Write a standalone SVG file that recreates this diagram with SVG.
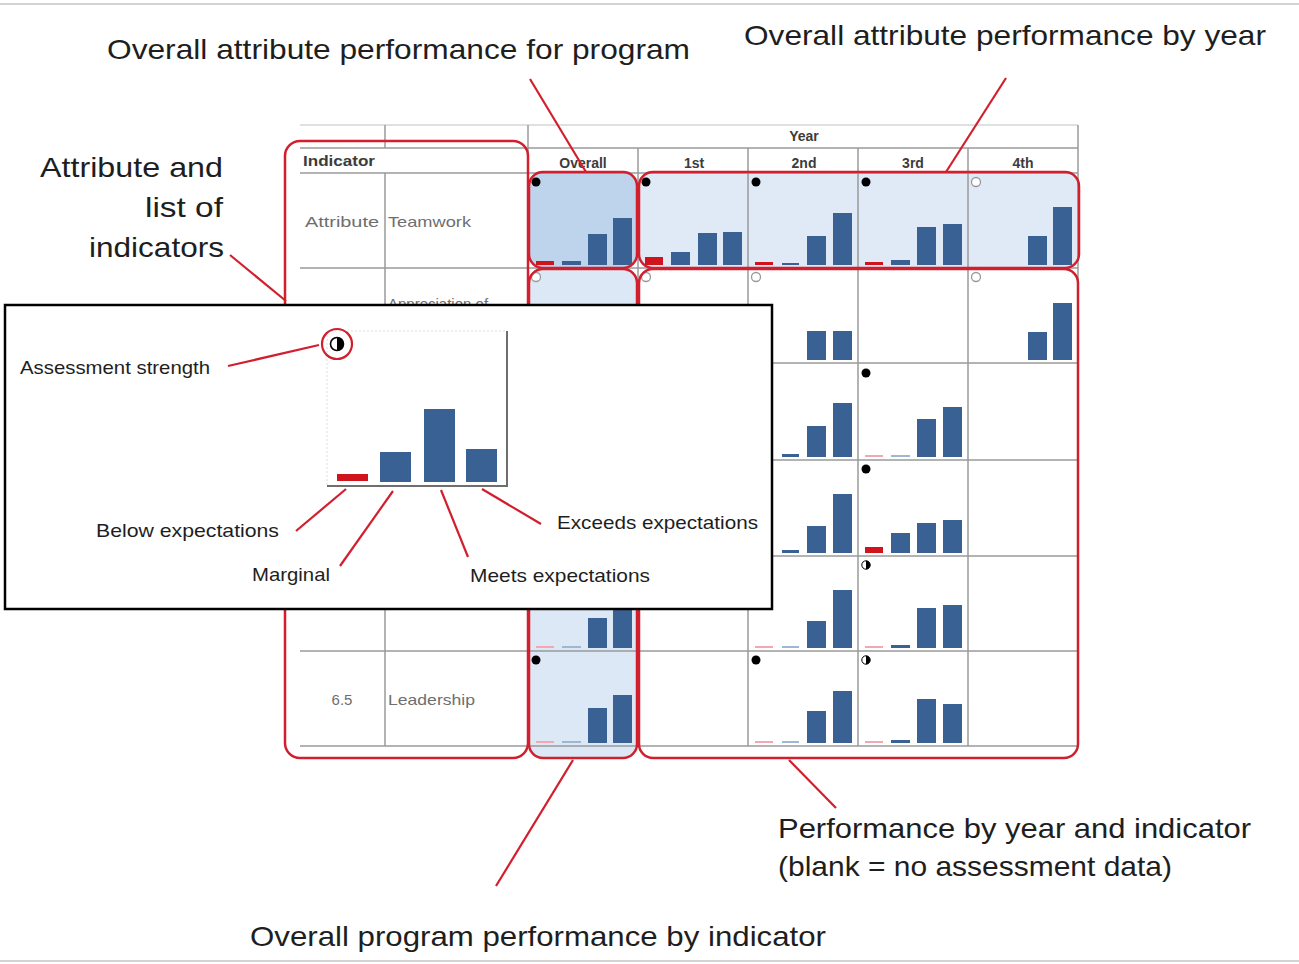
<svg xmlns="http://www.w3.org/2000/svg" width="1299" height="964" viewBox="0 0 1299 964">
  <style>
    .lbl { font-family: "Liberation Sans", Arial, sans-serif; fill: #1e1e1e; }
    .big { font-size: 28px; }
    .mid { font-size: 19px; }
    .cellt { font-family: "Liberation Sans", Arial, sans-serif; font-size: 15px; fill: #6e6e6e; }
    .head { font-family: "Liberation Sans", Arial, sans-serif; font-size: 14px; font-weight: bold; fill: #3c3c3c; }
    .grid { stroke: #9a9a9a; stroke-width: 1.5; fill: none; }
    .frame { fill: none; stroke: #d21f2e; stroke-width: 2.5; }
    .lead { stroke: #d21f2e; stroke-width: 2.2; fill: none; }
    .bar { fill: #3a6194; }
    .red { fill: #d0141e; }
    .pr { fill: #f2a8ae; }
    .pb { fill: #9fb7d3; }
    .dot { fill: #000; }
    .open { fill: #fff; stroke: #999; stroke-width: 1.3; }
  </style>

  <!-- page rules -->
  <line x1="0" y1="4" x2="1299" y2="4" stroke="#c4c4c4" stroke-width="1.5"/>
  <line x1="0" y1="961" x2="1299" y2="961" stroke="#c4c4c4" stroke-width="1.5"/>

  <!-- table background shading -->
  <g id="shading">
    <rect x="639" y="172" width="440" height="96" rx="14" fill="#dfeaf6"/>
    <rect x="529" y="172" width="108" height="96" rx="14" fill="#bed4ec"/>
    <rect x="529" y="269" width="108" height="489" rx="14" fill="#dce8f5"/>
  </g>

  <!-- table grid -->
  <g id="grid" class="grid">
    <line x1="300" y1="125" x2="1078" y2="125" stroke="#d6d6d6"/>
    <line x1="300" y1="148" x2="1078" y2="148"/>
    <line x1="300" y1="173" x2="1078" y2="173"/>
    <line x1="300" y1="268" x2="1078" y2="268"/>
    <line x1="300" y1="363" x2="1078" y2="363"/>
    <line x1="300" y1="460" x2="1078" y2="460"/>
    <line x1="300" y1="556" x2="1078" y2="556"/>
    <line x1="300" y1="651" x2="1078" y2="651"/>
    <line x1="300" y1="746" x2="1078" y2="746"/>
    <line x1="385" y1="125" x2="385" y2="148"/>
    <line x1="385" y1="173" x2="385" y2="746"/>
    <line x1="528" y1="125" x2="528" y2="746"/>
    <line x1="638" y1="148" x2="638" y2="746"/>
    <line x1="748" y1="148" x2="748" y2="746"/>
    <line x1="858" y1="148" x2="858" y2="746"/>
    <line x1="968" y1="148" x2="968" y2="746"/>
    <line x1="1078" y1="125" x2="1078" y2="746"/>
  </g>

  <!-- table headers and row labels -->
  <g id="headers">
    <text class="head" x="804" y="141" text-anchor="middle">Year</text>
    <text class="head" x="303" y="166" textLength="72" lengthAdjust="spacingAndGlyphs">Indicator</text>
    <text class="head" x="583" y="168" text-anchor="middle">Overall</text>
    <text class="head" x="694" y="168" text-anchor="middle">1st</text>
    <text class="head" x="804" y="168" text-anchor="middle">2nd</text>
    <text class="head" x="913" y="168" text-anchor="middle">3rd</text>
    <text class="head" x="1023" y="168" text-anchor="middle">4th</text>
    <text class="cellt" x="305" y="227" textLength="74" lengthAdjust="spacingAndGlyphs">Attribute</text>
    <text class="cellt" x="388" y="227" textLength="83" lengthAdjust="spacingAndGlyphs">Teamwork</text>
    <text class="cellt" x="388" y="309">Appreciation of</text>
    <text class="cellt" x="342" y="705" text-anchor="middle">6.5</text>
    <text class="cellt" x="388" y="705" textLength="87" lengthAdjust="spacingAndGlyphs">Leadership</text>
  </g>

  <!-- mini charts -->
  <g id="charts">
    <!-- row: Teamwork -->
    <rect class="red" x="536" y="261" width="18" height="4"/>
    <rect class="bar" x="562" y="261" width="19" height="4"/>
    <rect class="bar" x="588" y="234" width="19" height="31"/>
    <rect class="bar" x="613" y="218" width="19" height="47"/>
    <rect class="red" x="645" y="257" width="18" height="8"/>
    <rect class="bar" x="671" y="252" width="19" height="13"/>
    <rect class="bar" x="698" y="233" width="19" height="32"/>
    <rect class="bar" x="723" y="232" width="19" height="33"/>
    <rect class="red" x="755" y="262" width="18" height="3"/>
    <rect class="bar" x="782" y="263" width="17" height="2"/>
    <rect class="bar" x="807" y="236" width="19" height="29"/>
    <rect class="bar" x="833" y="213" width="19" height="52"/>
    <rect class="red" x="865" y="262" width="18" height="3"/>
    <rect class="bar" x="891" y="260" width="19" height="5"/>
    <rect class="bar" x="917" y="227" width="19" height="38"/>
    <rect class="bar" x="943" y="224" width="19" height="41"/>
    <rect class="bar" x="1028" y="236" width="19" height="29"/>
    <rect class="bar" x="1053" y="207" width="19" height="58"/>
    <!-- row 2 -->
    <rect class="red" x="755" y="335" width="18" height="25"/>
    <rect class="bar" x="807" y="331" width="19" height="29"/>
    <rect class="bar" x="833" y="331" width="19" height="29"/>
    <rect class="bar" x="1028" y="332" width="19" height="28"/>
    <rect class="bar" x="1053" y="303" width="19" height="57"/>
    <!-- row 3 -->
    <rect class="bar" x="782" y="454" width="17" height="3"/>
    <rect class="bar" x="807" y="426" width="19" height="31"/>
    <rect class="bar" x="833" y="403" width="19" height="54"/>
    <rect class="pr" x="865" y="455" width="18" height="2"/>
    <rect class="pb" x="891" y="455" width="19" height="2"/>
    <rect class="bar" x="917" y="419" width="19" height="38"/>
    <rect class="bar" x="943" y="407" width="19" height="50"/>
    <!-- row 4 -->
    <rect class="bar" x="782" y="550" width="17" height="3"/>
    <rect class="bar" x="807" y="526" width="19" height="27"/>
    <rect class="bar" x="833" y="494" width="19" height="59"/>
    <rect class="red" x="865" y="547" width="18" height="6"/>
    <rect class="bar" x="891" y="533" width="19" height="20"/>
    <rect class="bar" x="917" y="523" width="19" height="30"/>
    <rect class="bar" x="943" y="520" width="19" height="33"/>
    <!-- row 5 -->
    <rect class="pr" x="536" y="646" width="18" height="2"/>
    <rect class="pb" x="562" y="646" width="19" height="2"/>
    <rect class="bar" x="588" y="618" width="19" height="30"/>
    <rect class="bar" x="613" y="600" width="19" height="48"/>
    <rect class="pr" x="755" y="646" width="18" height="2"/>
    <rect class="pb" x="782" y="646" width="17" height="2"/>
    <rect class="bar" x="807" y="621" width="19" height="27"/>
    <rect class="bar" x="833" y="590" width="19" height="58"/>
    <rect class="pr" x="865" y="646" width="18" height="2"/>
    <rect class="bar" x="891" y="645" width="19" height="3"/>
    <rect class="bar" x="917" y="608" width="19" height="40"/>
    <rect class="bar" x="943" y="605" width="19" height="43"/>
    <!-- row: Leadership -->
    <rect class="pr" x="536" y="741" width="18" height="2"/>
    <rect class="pb" x="562" y="741" width="19" height="2"/>
    <rect class="bar" x="588" y="708" width="19" height="35"/>
    <rect class="bar" x="613" y="695" width="19" height="48"/>
    <rect class="pr" x="755" y="741" width="18" height="2"/>
    <rect class="pb" x="782" y="741" width="17" height="2"/>
    <rect class="bar" x="807" y="711" width="19" height="32"/>
    <rect class="bar" x="833" y="691" width="19" height="52"/>
    <rect class="pr" x="865" y="741" width="18" height="2"/>
    <rect class="bar" x="891" y="740" width="19" height="3"/>
    <rect class="bar" x="917" y="699" width="19" height="44"/>
    <rect class="bar" x="943" y="704" width="19" height="39"/>
  </g>

  <!-- assessment strength markers -->
  <g id="strength">
    <circle class="dot" cx="536" cy="182" r="4.5"/>
    <circle class="dot" cx="646" cy="182" r="4.5"/>
    <circle class="dot" cx="756" cy="182" r="4.5"/>
    <circle class="dot" cx="866" cy="182" r="4.5"/>
    <circle class="open" cx="976" cy="182" r="4.5"/>
    <circle class="open" cx="536" cy="277" r="4.5"/>
    <circle class="open" cx="646" cy="277" r="4.5"/>
    <circle class="open" cx="756" cy="277" r="4.5"/>
    <circle class="open" cx="976" cy="277" r="4.5"/>
    <circle class="dot" cx="866" cy="373" r="4.5"/>
    <circle class="dot" cx="866" cy="469" r="4.5"/>
    <g>
      <circle cx="866" cy="565" r="4.2" fill="#fff" stroke="#000" stroke-width="1"/>
      <path d="M866 560.8 A4.2 4.2 0 0 1 866 569.2 Z" fill="#000"/>
    </g>
    <circle class="dot" cx="536" cy="660" r="4.5"/>
    <circle class="dot" cx="756" cy="660" r="4.5"/>
    <g>
      <circle cx="866" cy="660" r="4.2" fill="#fff" stroke="#000" stroke-width="1"/>
      <path d="M866 655.8 A4.2 4.2 0 0 1 866 664.2 Z" fill="#000"/>
    </g>
  </g>

  <!-- highlighted regions -->
  <g id="regions">
    <rect class="frame" x="285" y="141" width="243" height="617" rx="15"/>
    <rect class="frame" x="529" y="172" width="108" height="96" rx="14"/>
    <rect class="frame" x="639" y="172" width="440" height="96" rx="14"/>
    <rect class="frame" x="529" y="269" width="108" height="489" rx="14"/>
    <rect class="frame" x="639" y="269" width="439" height="489" rx="14"/>
  </g>

  <!-- callout connectors -->
  <g id="connectors" class="lead">
    <line x1="530" y1="79" x2="586" y2="172"/>
    <line x1="1006" y1="78" x2="946" y2="172"/>
    <line x1="230" y1="255" x2="286" y2="301"/>
    <line x1="573" y1="760" x2="496" y2="886"/>
    <line x1="789" y1="760" x2="836" y2="808"/>
  </g>

  <!-- callout labels -->
  <g id="callouts">
    <text class="lbl big" x="107" y="59" textLength="583" lengthAdjust="spacingAndGlyphs">Overall attribute performance for program</text>
    <text class="lbl big" x="744" y="45" textLength="522" lengthAdjust="spacingAndGlyphs">Overall attribute performance by year</text>
    <text class="lbl big" x="223" y="177" text-anchor="end" textLength="183" lengthAdjust="spacingAndGlyphs">Attribute and</text>
    <text class="lbl big" x="223" y="217" text-anchor="end" textLength="78" lengthAdjust="spacingAndGlyphs">list of</text>
    <text class="lbl big" x="224" y="257" text-anchor="end" textLength="135" lengthAdjust="spacingAndGlyphs">indicators</text>
    <text class="lbl big" x="250" y="946" textLength="576" lengthAdjust="spacingAndGlyphs">Overall program performance by indicator</text>
    <text class="lbl big" x="778" y="838" textLength="473" lengthAdjust="spacingAndGlyphs">Performance by year and indicator</text>
    <text class="lbl big" x="778" y="876" textLength="394" lengthAdjust="spacingAndGlyphs">(blank = no assessment data)</text>
  </g>

  <!-- legend panel -->
  <g id="legend">
    <rect x="5" y="305" width="767" height="304" fill="#fff" stroke="#000" stroke-width="2.5"/>
    <rect x="327" y="331" width="180" height="155" fill="#fff" stroke="#dcdcdc" stroke-width="1" stroke-dasharray="2 2"/>
    <polyline points="507,331 507,486 327,486" fill="none" stroke="#6e6e6e" stroke-width="2"/>
    <rect class="red" x="337" y="474" width="31" height="7"/>
    <rect class="bar" x="380" y="452" width="31" height="30"/>
    <rect class="bar" x="424" y="409" width="31" height="73"/>
    <rect class="bar" x="466" y="449" width="31" height="33"/>
    <circle cx="337" cy="344" r="6.5" fill="#fff" stroke="#000" stroke-width="1.6"/>
    <path d="M337 337.5 A6.5 6.5 0 0 1 337 350.5 Z" fill="#000"/>
    <circle cx="337" cy="344" r="15" fill="none" stroke="#d21f2e" stroke-width="2.2"/>
    <g class="lead">
      <line x1="228" y1="366" x2="319" y2="345"/>
      <line x1="296" y1="531" x2="346" y2="489"/>
      <line x1="340" y1="566" x2="393" y2="491"/>
      <line x1="468" y1="557" x2="441" y2="490"/>
      <line x1="541" y1="524" x2="482" y2="489"/>
    </g>
    <text class="lbl mid" x="20" y="374" textLength="190" lengthAdjust="spacingAndGlyphs">Assessment strength</text>
    <text class="lbl mid" x="96" y="537" textLength="183" lengthAdjust="spacingAndGlyphs">Below expectations</text>
    <text class="lbl mid" x="252" y="581" textLength="78" lengthAdjust="spacingAndGlyphs">Marginal</text>
    <text class="lbl mid" x="470" y="582" textLength="180" lengthAdjust="spacingAndGlyphs">Meets expectations</text>
    <text class="lbl mid" x="557" y="529" textLength="201" lengthAdjust="spacingAndGlyphs">Exceeds expectations</text>
  </g>
</svg>
